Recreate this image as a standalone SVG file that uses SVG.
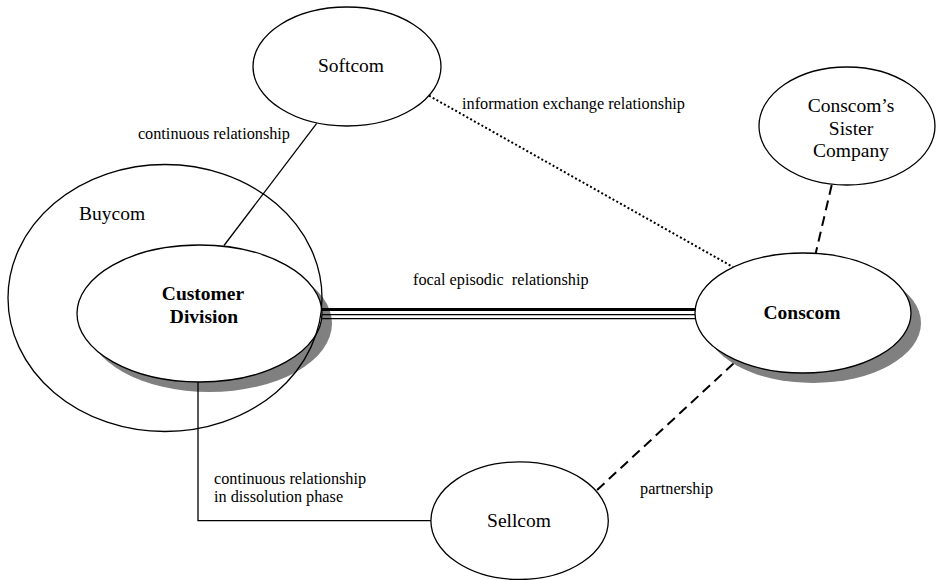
<svg xmlns="http://www.w3.org/2000/svg" width="936" height="580" viewBox="0 0 936 580">
  <style>
    .node { fill: #ffffff; stroke: #000000; stroke-width: 1.3; }
    .outline { fill: none; stroke: #000000; stroke-width: 1.3; }
    .shadow { fill: #808080; stroke: none; }
    .name { font-family: "Liberation Serif", "Times New Roman", serif; font-size: 19.5px; fill: #000000; text-anchor: middle; }
    .bold { font-weight: bold; }
    .label { font-family: "Liberation Serif", "Times New Roman", serif; font-size: 16.25px; fill: #000000; }
    .solid { fill: none; stroke: #000000; stroke-width: 1.3; }
    .dashed { fill: none; stroke: #000000; stroke-width: 2; stroke-dasharray: 10 6; }
    .dotted { fill: none; stroke: #000000; stroke-width: 2; stroke-dasharray: 2 2.3; }
  </style>

  <rect x="0" y="0" width="936" height="580" fill="#ffffff"/>

  <!-- Customer Division (inside Buycom) -->
  <g id="customer-division">
    <ellipse class="shadow" cx="209.5" cy="323.5" rx="122.5" ry="68.5"/>
    <ellipse class="node" cx="199.5" cy="313.5" rx="122.5" ry="68.5"/>
    <text class="name bold" x="203" y="300">Customer</text>
    <text class="name bold" x="204" y="322.5">Division</text>
  </g>

  <!-- Buycom: the enclosing company boundary -->
  <g id="buycom">
    <ellipse class="outline" cx="165" cy="298" rx="157" ry="133.5"/>
    <text class="name" x="79" y="220" style="text-anchor:start">Buycom</text>
  </g>

  <g id="softcom">
    <ellipse class="node" cx="347" cy="66.5" rx="94" ry="59.5"/>
    <text class="name" x="351" y="72">Softcom</text>
  </g>

  <g id="conscom">
    <ellipse class="shadow" cx="813" cy="323" rx="108" ry="60"/>
    <ellipse class="node" cx="803" cy="313" rx="108" ry="60"/>
    <text class="name bold" x="802" y="319">Conscom</text>
  </g>

  <g id="conscom-sister">
    <ellipse class="node" cx="847" cy="126" rx="88" ry="59"/>
    <text class="name" x="851" y="112">Conscom’s</text>
    <text class="name" x="851" y="134.5">Sister</text>
    <text class="name" x="851" y="157">Company</text>
  </g>

  <g id="sellcom">
    <ellipse class="node" cx="519.6" cy="520.7" rx="88.7" ry="58.8"/>
    <text class="name" x="519" y="526.5">Sellcom</text>
  </g>

  <!-- Relationships -->
  <g id="connectors">
    <!-- Softcom to Customer Division: continuous -->
    <line class="solid" x1="316.7" y1="123.3" x2="224" y2="245.5"/>
    <!-- Softcom to Conscom: information exchange -->
    <line class="dotted" x1="429" y1="95.7" x2="733" y2="267"/>
    <!-- Customer Division to Conscom: focal episodic (triple rule) -->
    <g id="focal-link">
      <line x1="322" y1="309.5" x2="695" y2="309.5" stroke="#000" stroke-width="3.2"/>
      <line x1="322" y1="314.6" x2="695" y2="314.6" stroke="#000" stroke-width="1.4"/>
      <line x1="322" y1="318.6" x2="695" y2="318.6" stroke="#000" stroke-width="1.3"/>
    </g>
    <!-- Conscom to its sister company -->
    <line class="dashed" x1="831.7" y1="185" x2="815.7" y2="253.4"/>
    <!-- Conscom to Sellcom: partnership -->
    <line class="dashed" x1="733.5" y1="363.5" x2="596" y2="491"/>
    <!-- Customer Division to Sellcom: dissolving relationship -->
    <polyline class="solid" points="198,382 198,520.7 431,520.7"/>
  </g>

  <g id="connector-labels">
    <text class="label" x="290" y="139" style="text-anchor:end">continuous relationship</text>
    <text class="label" x="462" y="109">information exchange relationship</text>
    <text class="label" x="413" y="285" style="white-space:pre">focal episodic  relationship</text>
    <text class="label" x="214" y="483.5">continuous relationship</text>
    <text class="label" x="214" y="502">in dissolution phase</text>
    <text class="label" x="640" y="494">partnership</text>
  </g>
</svg>
